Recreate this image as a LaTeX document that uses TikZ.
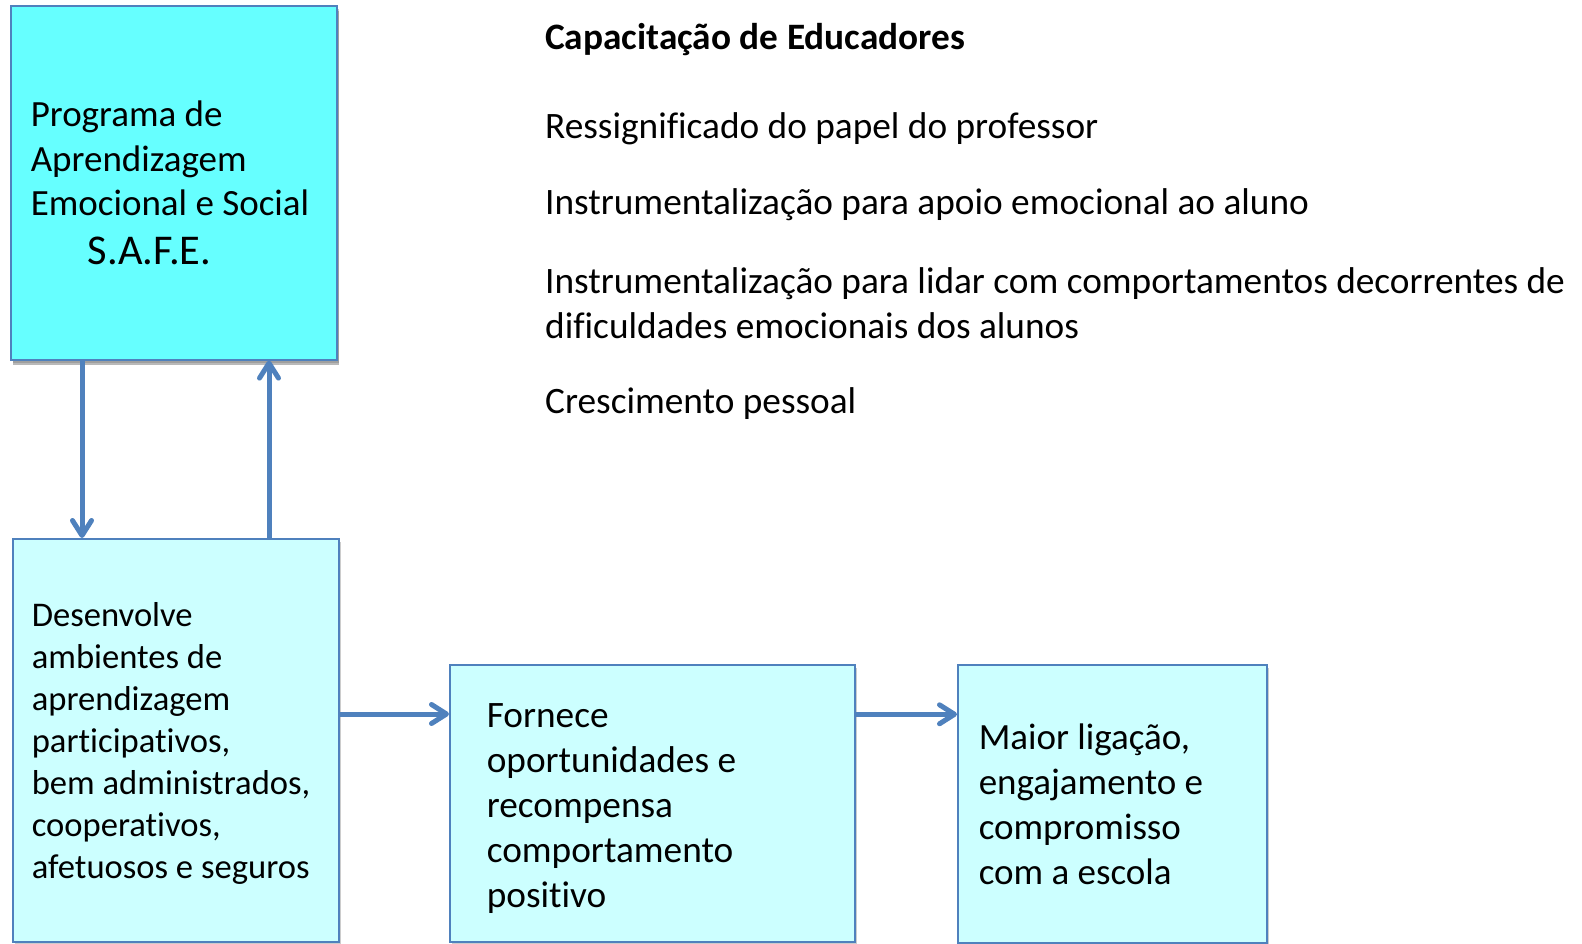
\documentclass[tikz,border=0pt]{standalone}
\usepackage{fontspec}
\setmainfont{Carlito}[Ligatures=CommonOff]
\usepackage{xcolor}
\usetikzlibrary{arrows.meta, positioning, shadows}

\definecolor{boxblue}{HTML}{4F81BD}
\definecolor{safecyan}{HTML}{66FFFF}
\definecolor{lightcyan}{HTML}{CCFFFF}

\tikzset{
  caixa/.style={draw=boxblue, line width=1.6pt, anchor=north west, align=flush left,
    inner ysep=0pt, font=\fontsize{37.3}{45}\selectfont,
    drop shadow={shadow xshift=2pt, shadow yshift=-3pt, fill=black!40}},
  seta/.style={draw=boxblue, line width=5pt,
    -{Straight Barb[length=15pt, width=19pt, round]}},
  texto/.style={anchor=west, align=left, inner sep=0pt,
    font=\fontsize{37.3}{45}\selectfont}
}

\begin{document}
\begin{tikzpicture}[x=1pt, y=-1pt]
\useasboundingbox (0,0) rectangle (1582,944);
% Caixas
\node[caixa, fill=safecyan, inner xsep=20pt, text width=286pt, minimum height=354pt,
  font=\fontsize{37}{44.4}\selectfont,
  drop shadow={shadow xshift=2pt, shadow yshift=-5pt, fill=black!55}] (safe) at (10,5)
  {Programa de\\Aprendizagem\\Emocional e Social\\[4pt]
   \hspace*{57pt}{\fontsize{42.4}{44}\selectfont S.A.F.E.}};
\node[caixa, fill=lightcyan, inner xsep=19pt, text width=288pt, minimum height=403pt,
  font=\fontsize{34.6}{42}\selectfont] (ambientes) at (12,538)
  {\rule{0pt}{31pt}Desenvolve\\ambientes de\\aprendizagem\\participativos,\\bem administrados,\\cooperativos,\\afetuosos e seguros};
\node[caixa, fill=lightcyan, inner xsep=37pt, text width=331pt, minimum height=277pt]
  (fornece) at (449,664)
  {\rule{0pt}{34pt}Fornece\\oportunidades e\\recompensa\\comportamento\\positivo};
\node[caixa, fill=lightcyan, inner xsep=21pt, text width=267pt, minimum height=278pt,
  font=\fontsize{37}{45}\selectfont] (ligacao) at (957,664)
  {Maior ligação,\\engajamento e\\compromisso\\com a escola};
% Capacitacao
\node[texto, font=\fontsize{37.3}{45}\selectfont\bfseries] (titulo) at (545,40) {Capacitação de Educadores};
\node[texto] (item1) at (545,129) {Ressignificado do papel do professor};
\node[texto] (item2) at (545,205) {Instrumentalização para apoio emocional ao aluno};
\node[texto] (item3) at (545,303) {Instrumentalização para lidar com comportamentos decorrentes de\\dificuldades emocionais dos alunos};
\node[texto] (item4) at (545,404) {Crescimento pessoal};
% Setas
\draw[seta] ([xshift=72pt]safe.south west) -- ([xshift=70pt]ambientes.north west);
\draw[seta] ([xshift=257pt]ambientes.north west) -- ([xshift=259pt]safe.south west);
\draw[seta] (ambientes.east |- fornece.north) ++(0,50) coordinate (a1) -- (a1 -| fornece.west);
\draw[seta] (fornece.east) ++(0,-89) coordinate (a2) -- (a2 -| ligacao.west);
\end{tikzpicture}
\end{document}
